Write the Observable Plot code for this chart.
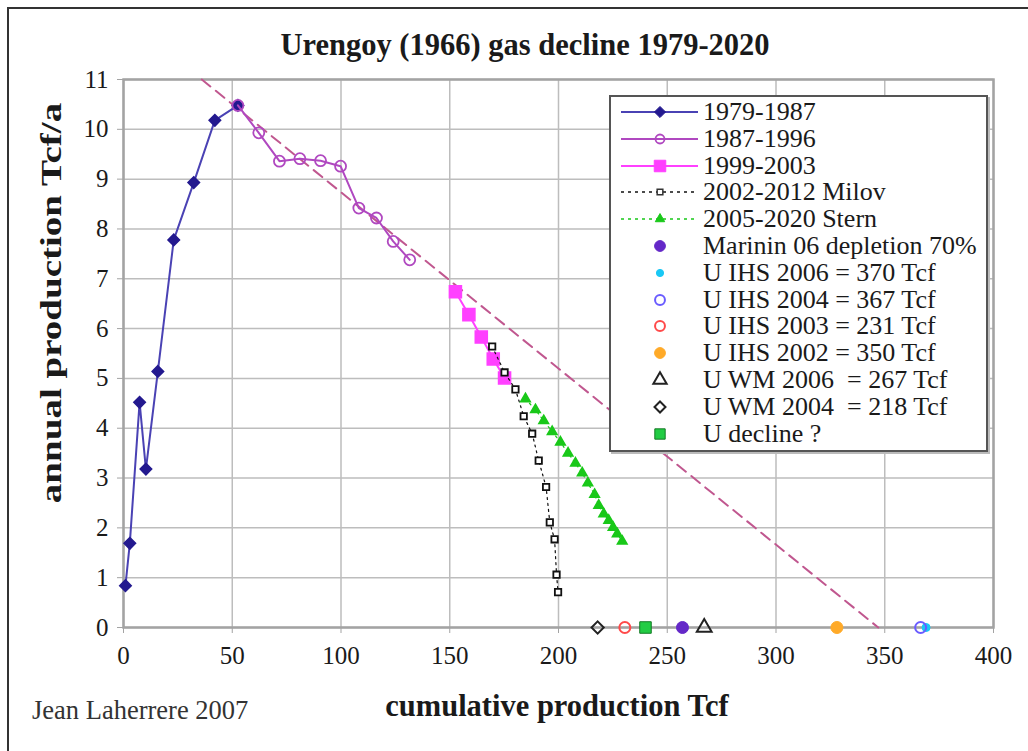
<!DOCTYPE html>
<html><head><meta charset="utf-8">
<script src="https://cdn.jsdelivr.net/npm/d3@7"></script>
<script src="https://cdn.jsdelivr.net/npm/@observablehq/plot@0.6"></script>
<style>
body{margin:0;background:#fff;}
#wrap{position:relative;width:1028px;height:751px;overflow:hidden;font-family:"Liberation Serif","Times New Roman",serif;color:#1a1a1a;}
#outer{position:absolute;left:7px;top:7px;width:1060px;height:800px;border:2px solid #333;box-sizing:border-box;pointer-events:none;}
#chart{position:absolute;left:0;top:0;}
.lbl{position:absolute;white-space:nowrap;}
#title{left:525px;top:45px;transform:translate(-50%,-50%);font-weight:bold;font-size:30.5px;}
#xtitle{left:557px;top:706px;transform:translate(-50%,-50%);font-weight:bold;font-size:30.5px;}
#ytitle{left:51px;top:303px;transform:translate(-50%,-50%) rotate(-90deg) scaleX(1.3);font-weight:bold;font-size:30px;}
#credit{left:32px;top:710px;transform:translate(0,-50%);font-size:26.5px;color:#333;}
#legend{position:absolute;left:609px;top:95px;width:379px;height:357px;border:2px solid #555;box-sizing:border-box;background:#fff;box-shadow:2px 2px 0 #bbb;}
.row{position:absolute;left:0;height:26px;display:flex;align-items:center;font-size:26px;line-height:26px;}
.row svg{flex:none;}
</style></head>
<body>
<div id="wrap">
  <div id="chart"></div>
  <div id="legend"></div>
  <div class="lbl" id="title">Urengoy (1966) gas decline 1979-2020</div>
  <div class="lbl" id="xtitle">cumulative production Tcf</div>
  <div class="lbl" id="ytitle">annual production Tcf/a</div>
  <div class="lbl" id="credit">Jean Laherrere 2007</div>
  <div id="outer"></div>
</div>
<script>
// ---- data ----
const xTicks = [0, 50, 100, 150, 200, 250, 300, 350, 400];
const yTicks = [0, 1, 2, 3, 4, 5, 6, 7, 8, 9, 10, 11];

const s1Name = "1979-1987";
const s1Cum  = [0.9, 2.9, 7.4, 10.3, 15.8, 23.1, 32.3, 42.0, 52.6];
const s1Prod = [0.84, 1.69, 4.52, 3.18, 5.14, 7.78, 8.93, 10.18, 10.48];

const s2Name = "1987-1996";
const s2Cum  = [52.6, 62.2, 71.7, 81.1, 90.6, 99.8, 108.2, 116.3, 124.0, 131.6];
const s2Prod = [10.48, 9.93, 9.36, 9.41, 9.37, 9.26, 8.42, 8.22, 7.75, 7.38];

const s3Name = "1999-2003";
const s3Cum  = [152.6, 158.8, 164.5, 170.0, 175.2];
const s3Prod = [6.74, 6.28, 5.83, 5.39, 5.01];

const milovName = "2002-2012 Milov";
const milovCum  = [169.5, 175.2, 180.2, 184.0, 187.9, 190.9, 194.3, 196.0, 198.2, 199.1, 199.8];
const milovProd = [5.64, 5.12, 4.78, 4.24, 3.89, 3.35, 2.82, 2.11, 1.77, 1.06, 0.71];

const sternName = "2005-2020 Stern";
const sternCum  = [184.8, 189.4, 193.2, 197.1, 200.9, 204.4, 207.8, 210.9, 213.5, 216.6, 218.5, 220.8, 223.1, 225.1, 227.0, 229.3];
const sternProd = [4.59, 4.37, 4.15, 3.93, 3.72, 3.50, 3.30, 3.10, 2.90, 2.67, 2.45, 2.28, 2.15, 2.01, 1.88, 1.73];

const trendCum  = [36, 347];
const trendProd = [11, 0];

const ultNames = ["Marinin 06 depletion 70%", "U IHS 2006 = 370 Tcf", "U IHS 2004 = 367 Tcf", "U IHS 2003 = 231 Tcf",
                  "U IHS 2002 = 350 Tcf", "U WM 2006  = 267 Tcf", "U WM 2004  = 218 Tcf", "U decline ?"];
const ultCum   = [257, 369, 366.5, 230.5, 328, 267, 218, 240];

// ---- styles ----
const C = {
  s1line:"#4a42b4", s1dot:"#23198f", s2:"#b048c0", s3:"#ff40ff", milov:"#111", stern:"#19c819", trend:"#c0578f"
};
const ultStyle = [
  {symbol:"circle",   r:6,   fill:"#6428c8", stroke:"#6428c8", sw:1},
  {symbol:"circle",   r:4,   fill:"#19c8f5", stroke:"#19c8f5", sw:1},
  {symbol:"circle",   r:5.5, fill:"none",    stroke:"#6a5cff", sw:2},
  {symbol:"circle",   r:5.5, fill:"none",    stroke:"#ff4a4a", sw:2},
  {symbol:"circle",   r:6,   fill:"#ffaa28", stroke:"#ffaa28", sw:1},
  {symbol:"triangle", r:5.5, fill:"none",    stroke:"#222",    sw:2},
  {symbol:"diamond2", r:5.5, fill:"none",    stroke:"#222",    sw:2},
  {symbol:"square",   r:6.5, fill:"#22cc44", stroke:"#137a25", sw:1}
];

const pts = (xs, ys) => xs.map((x, i) => ({cum: x, prod: ys[i]}));
const s1 = pts(s1Cum, s1Prod), s2 = pts(s2Cum, s2Prod), s3 = pts(s3Cum, s3Prod);
const milov = pts(milovCum, milovProd), stern = pts(sternCum, sternProd), trend = pts(trendCum, trendProd);
const ult = ultCum.map((c, i) => ({cum: c, prod: 0, i}));

const ultMarks = ult.map(d => {
  const s = ultStyle[d.i];
  return Plot.dot([d], {x:"cum", y:"prod", symbol:()=>s.symbol, r:s.r, fill:s.fill, stroke:s.stroke, strokeWidth:s.sw});
});

const chart = Plot.plot({
  width:1028, height:751,
  marginLeft:123, marginRight:35, marginTop:79, marginBottom:124,
  x:{domain:[0,400]}, y:{domain:[0,11]},
  symbol:{type:"identity"},
  style:{fontFamily:'"Liberation Serif","Times New Roman",serif', fontSize:"25px", color:"#1a1a1a", background:"transparent", overflow:"visible"},
  marks:[
    Plot.gridX(xTicks, {stroke:"#bdbdbd", strokeOpacity:1, strokeWidth:1.5}),
    Plot.gridY(yTicks, {stroke:"#bdbdbd", strokeOpacity:1, strokeWidth:1.5}),
    Plot.frame({stroke:"#a3a3a3", strokeWidth:2.5}),
    Plot.axisX(xTicks, {tickSize:6, tickPadding:13, label:null, stroke:"#a3a3a3", fill:"#1a1a1a", fontSize:25, tickFormat:d=>String(d)}),
    Plot.axisY(yTicks, {tickSize:6, tickPadding:9, label:null, stroke:"#a3a3a3", fill:"#1a1a1a", fontSize:25, tickFormat:d=>String(d)}),
    Plot.line(trend, {x:"cum", y:"prod", stroke:C.trend, strokeWidth:2, strokeDasharray:"11,7"}),
    Plot.line(s1, {x:"cum", y:"prod", stroke:C.s1line, strokeWidth:2}),
    Plot.dot(s1, {x:"cum", y:"prod", symbol:()=>"diamond2", r:5.2, fill:C.s1dot, stroke:C.s1dot}),
    Plot.line(s2, {x:"cum", y:"prod", stroke:C.s2, strokeWidth:2}),
    Plot.dot(s2, {x:"cum", y:"prod", symbol:()=>"circle", r:5.5, fill:"none", stroke:C.s2, strokeWidth:1.8}),
    Plot.line(s3, {x:"cum", y:"prod", stroke:C.s3, strokeWidth:2}),
    Plot.dot(s3, {x:"cum", y:"prod", symbol:()=>"square", r:6.8, fill:C.s3, stroke:C.s3}),
    Plot.line(milov, {x:"cum", y:"prod", stroke:C.milov, strokeWidth:1.2, strokeDasharray:"2,4"}),
    Plot.dot(milov, {x:"cum", y:"prod", symbol:()=>"square", r:3.6, fill:"#fff", stroke:C.milov, strokeWidth:1.8}),
    Plot.line(stern, {x:"cum", y:"prod", stroke:C.stern, strokeWidth:1.2, strokeDasharray:"2,4"}),
    Plot.dot(stern, {x:"cum", y:"prod", symbol:()=>"triangle", r:3.6, fill:C.stern, stroke:C.stern}),
    ...ultMarks
  ]
});
document.getElementById("chart").appendChild(chart);

// ---- legend ----
const legendItems = [
  {name:s1Name, line:C.s1line, dash:null, symbol:"diamond2", r:5, fill:C.s1dot, stroke:C.s1dot, sw:1},
  {name:s2Name, line:C.s2, dash:null, symbol:"circle", r:4.5, fill:"none", stroke:C.s2, sw:1.8},
  {name:s3Name, line:C.s3, dash:null, symbol:"square", r:6.5, fill:C.s3, stroke:C.s3, sw:1},
  {name:milovName, line:C.milov, dash:"3,4", symbol:"square", r:3.2, fill:"#fff", stroke:"#333", sw:1.5},
  {name:sternName, line:C.stern, dash:"3,4", symbol:"triangle", r:3.5, fill:C.stern, stroke:C.stern, sw:1},
  ...ultNames.map((n, i) => ({name:n, line:null, dash:null, ...ultStyle[i], r:ultStyle[i].r*0.9}))
];
const symMap = {circle:d3.symbolCircle, square:d3.symbolSquare, triangle:d3.symbolTriangle, diamond2:d3.symbolDiamond2};
const leg = d3.select("#legend");
legendItems.forEach((it, k) => {
  const row = leg.append("div").attr("class","row").style("top", (2 + k*26.8) + "px");
  const svg = row.append("svg").attr("width", 92).attr("height", 26);
  if (it.line) {
    svg.append("line").attr("x1", 10).attr("x2", 87).attr("y1", 13).attr("y2", 13)
      .attr("stroke", it.line).attr("stroke-width", it.dash ? 1.5 : 2).attr("stroke-dasharray", it.dash);
  }
  svg.append("path").attr("transform","translate(49,13)")
    .attr("d", d3.symbol(symMap[it.symbol], Math.PI * it.r * it.r)())
    .attr("fill", it.fill).attr("stroke", it.stroke).attr("stroke-width", it.sw ?? 1);
  row.append("span").style("white-space","pre").text(it.name);
});
</script>
</body></html>
